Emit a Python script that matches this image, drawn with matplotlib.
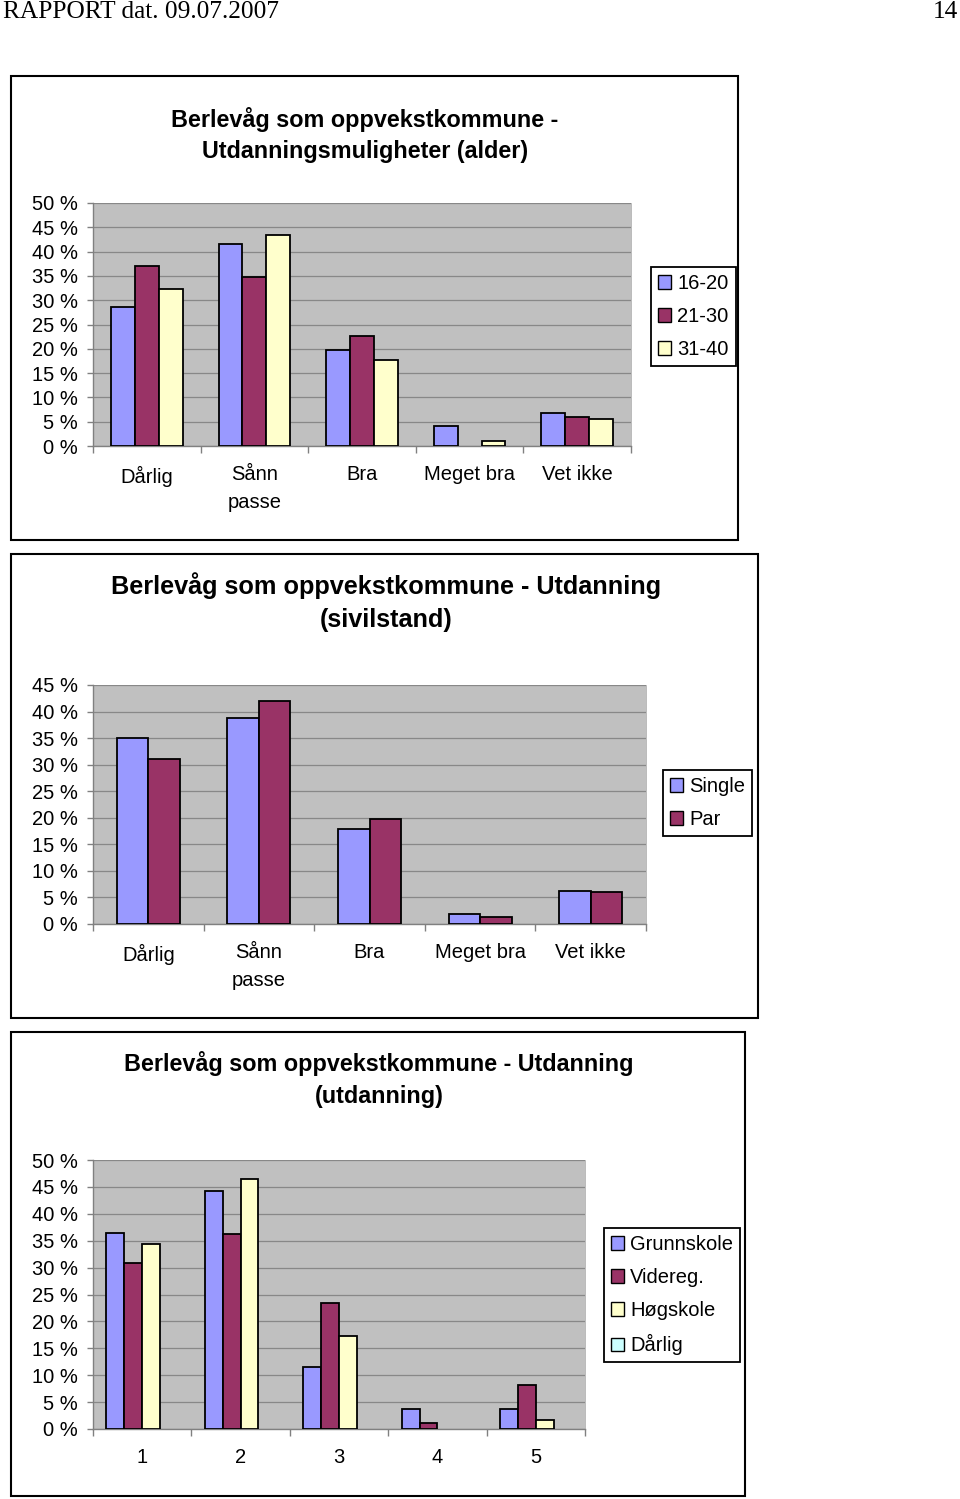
import numpy as np
import matplotlib
matplotlib.use("Agg")
import matplotlib.pyplot as plt
from matplotlib.patches import Rectangle, Patch
import matplotlib.ticker as plticker

# ---------------- data ----------------
answer_cats = ['Dårlig', 'Sånn\npasse', 'Bra', 'Meget bra', 'Vet ikke']

age_labels = ['16-20', '21-30', '31-40']
age_16_20 = [28.5, 41.6, 19.7, 4.1, 6.7]
age_21_30 = [37.0, 34.7, 22.6, 0.0, 6.0]
age_31_40 = [32.4, 43.5, 17.7, 1.1, 5.6]

civil_labels = ['Single', 'Par']
civil_single = [35.1, 38.7, 17.9, 1.8, 6.3]
civil_par = [31.0, 42.0, 19.7, 1.25, 6.0]

edu_cats = ['1', '2', '3', '4', '5']
edu_labels = ['Grunnskole', 'Videreg.', 'Høgskole', 'Dårlig']
edu_grunnskole = [36.4, 44.2, 11.5, 3.8, 3.8]
edu_videreg = [30.9, 36.2, 23.5, 1.2, 8.2]
edu_hogskole = [34.4, 46.5, 17.3, 0.0, 1.7]
edu_darlig = [0.0, 0.0, 0.0, 0.0, 0.0]

# ---------------- style ----------------
W, H = 960, 1499
colors = ['#9999FF', '#993366', '#FFFFCC', '#CCFFFF']
font = 'Liberation Sans'
tick_fs = 14.5


def fig_rect(x0, y0, x1, y1):
    """pixel box (top-left origin) -> figure fraction [l, b, w, h]"""
    return [x0 / W, 1 - y1 / H, (x1 - x0) / W, (y1 - y0) / H]


def draw_chart(fig, frame, plot_box, title_lines, title_fs, cats, series,
               labels, ymax, legend_xy):
    # outer frame
    fx0, fy0, fx1, fy1 = frame
    fig.patches.append(Rectangle((fx0 / W, 1 - fy1 / H), (fx1 - fx0) / W,
                                 (fy1 - fy0) / H, transform=fig.transFigure,
                                 fill=False, edgecolor='black', lw=1.5))
    for (tx, ty, txt) in title_lines:
        fig.text(tx / W, 1 - ty / H, txt, ha='center', va='center',
                 fontsize=title_fs, fontweight='bold', family=font)

    ax = fig.add_axes(fig_rect(*plot_box))
    ax.set_facecolor('#C0C0C0')
    n = len(series)
    w = 1.0 / (n + 1.5)
    x = np.arange(len(cats))
    for i, vals in enumerate(series):
        vals = np.array(vals, dtype=float)
        mask = vals > 0
        ax.bar(x[mask] + 0.75 * w + i * w, vals[mask], width=w, align='edge',
               color=colors[i], edgecolor='black', linewidth=1.3, zorder=3)

    ax.set_xlim(0, len(cats))
    ax.set_ylim(0, ymax)
    ax.set_yticks(np.arange(0, ymax + 1, 5))
    ax.yaxis.set_major_formatter(plticker.FuncFormatter(lambda v, p: '%d %%' % v))
    ax.grid(axis='y', color='#888888', lw=0.9, zorder=1)
    ax.set_axisbelow(True)

    ax.set_xticks(np.arange(len(cats) + 1))
    ax.set_xticklabels([])
    ax.set_xticks(x + 0.5, minor=True)
    ax.set_xticklabels(cats, minor=True, family=font, fontsize=tick_fs,
                       linespacing=1.55)
    ax.tick_params(axis='x', which='major', direction='out', length=5,
                   color='#808080', width=1)
    ax.tick_params(axis='x', which='minor', length=0, pad=14)
    ax.tick_params(axis='y', direction='out', length=4, color='#808080',
                   width=1, pad=7, labelsize=tick_fs)
    for lab in ax.get_yticklabels():
        lab.set_family(font)

    ax.spines['top'].set_visible(False)
    ax.spines['right'].set_color('#B0B0B0')
    ax.spines['right'].set_linewidth(0.6)
    ax.spines['left'].set_color('#808080')
    ax.spines['bottom'].set_color('#808080')
    ax.spines['left'].set_linewidth(1.0)
    ax.spines['bottom'].set_linewidth(1.0)

    handles = [Patch(facecolor=colors[i], edgecolor='black', lw=1.0)
               for i in range(n)]
    leg = fig.legend(handles, labels, loc='upper left',
                     bbox_to_anchor=(legend_xy[0] / W, 1 - legend_xy[1] / H),
                     prop={'family': font, 'size': tick_fs},
                     handlelength=0.65, handleheight=0.65, handletextpad=0.3,
                     labelspacing=0.7, borderpad=0.35, borderaxespad=0,
                     fancybox=False, framealpha=1)
    leg.get_frame().set_edgecolor('black')
    leg.get_frame().set_linewidth(1.3)
    return ax


fig = plt.figure(figsize=(W / 100, H / 100), dpi=100)
fig.patch.set_facecolor('white')

# page header
fig.text(3 / W, 1 - 18.5 / H, 'RAPPORT dat. 09.07.2007', ha='left',
         va='baseline', fontsize=18.3, family='Liberation Serif')
fig.text(958 / W, 1 - 18.5 / H, '14', ha='right', va='baseline',
         fontsize=18.3, family='Liberation Serif')

draw_chart(fig, (11, 76, 738, 540), (93, 203, 631, 446),
           [(365, 119, 'Berlevåg som oppvekstkommune -'),
            (365, 151.5, 'Utdanningsmuligheter (alder)')], 16.8,
           answer_cats, [age_16_20, age_21_30, age_31_40], age_labels, 50,
           (651, 267))

draw_chart(fig, (11, 554, 758, 1018), (93, 685, 646, 924),
           [(386, 586, 'Berlevåg som oppvekstkommune - Utdanning'),
            (386, 620, '(sivilstand)')], 18.2,
           answer_cats, [civil_single, civil_par], civil_labels, 45,
           (663, 770))

draw_chart(fig, (11, 1032, 745, 1496), (93, 1160, 585, 1429),
           [(379, 1063, 'Berlevåg som oppvekstkommune - Utdanning'),
            (379, 1096, '(utdanning)')], 16.8,
           edu_cats, [edu_grunnskole, edu_videreg, edu_hogskole, edu_darlig],
           edu_labels, 50, (604, 1228))

fig.savefig('out.png', dpi=100)
